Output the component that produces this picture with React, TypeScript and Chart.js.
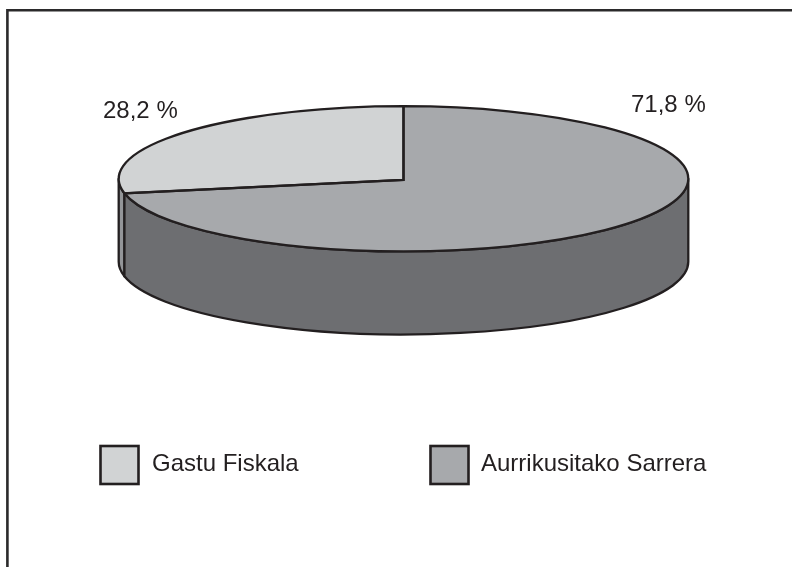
import React, { useEffect, useRef } from "react";
import { Chart, registerables } from "chart.js";

Chart.register(...registerables);

const categories = ["Gastu Fiskala", "Aurrikusitako Sarrera"];
const shares = [28.2, 71.8];
const shareLabels = ["28,2 %", "71,8 %"];
const topColors = ["#d1d3d4", "#a7a9ac"];
const sideColors = ["#939598", "#6d6e71"];

const INK = "#231f20";
const FONT = '24px "Liberation Sans", Arial, sans-serif';
const CX = 403.5;
const CY = 178.8;
const RX = 284.8;
const RY = 72.6;
const DEPTH = 83;
const START = -(shares[0] / 100) * 360;

const labelSpots = [
  { x: 103, y: 118 },
  { x: 631, y: 112 },
];
const legendSpots = [
  { x: 100.5, y: 446, tx: 152, ty: 471 },
  { x: 430.5, y: 446, tx: 481, ty: 471 },
];

const arcsOf = (chart: any) => chart.getDatasetMeta(0).data as any[];

const pie3d = {
  id: "pie3d",
  beforeDraw(chart: any) {
    const ctx = chart.ctx;
    ctx.save();
    ctx.fillStyle = "#ffffff";
    ctx.fillRect(0, 0, chart.width, chart.height);
    ctx.strokeStyle = "#2b2a2b";
    ctx.lineWidth = 2.6;
    ctx.beginPath();
    ctx.moveTo(7.4, chart.height);
    ctx.lineTo(7.4, 10.3);
    ctx.lineTo(chart.width, 10.3);
    ctx.stroke();
    ctx.restore();
  },
  beforeDatasetsDraw(chart: any) {
    const ctx = chart.ctx;
    ctx.save();
    ctx.strokeStyle = INK;
    ctx.lineWidth = 2.3;
    ctx.lineJoin = "round";
    arcsOf(chart).forEach((arc, i) => {
      const { startAngle, endAngle } = arc.getProps(["startAngle", "endAngle"], true);
      for (const turn of [-2, 0, 2]) {
        const a = Math.max(startAngle, turn * Math.PI);
        const b = Math.min(endAngle, (turn + 1) * Math.PI);
        if (b <= a) continue;
        ctx.beginPath();
        ctx.ellipse(CX, CY, RX, RY, 0, a, b);
        ctx.ellipse(CX, CY + DEPTH, RX, RY, 0, b, a, true);
        ctx.closePath();
        ctx.fillStyle = sideColors[i];
        ctx.fill();
        ctx.stroke();
      }
    });
    ctx.restore();
  },
  beforeDatasetDraw(chart: any) {
    const ctx = chart.ctx;
    const arc = arcsOf(chart)[0];
    const { x, y, outerRadius } = arc.getProps(["x", "y", "outerRadius"], true);
    ctx.save();
    ctx.translate(CX, CY);
    ctx.scale(RX / outerRadius, RY / outerRadius);
    ctx.translate(-x, -y);
  },
  afterDatasetDraw(chart: any) {
    chart.ctx.restore();
  },
  afterDatasetsDraw(chart: any) {
    const ctx = chart.ctx;
    ctx.save();
    ctx.strokeStyle = INK;
    ctx.lineWidth = 2.3;
    ctx.lineJoin = "miter";
    arcsOf(chart).forEach((arc) => {
      const { startAngle, endAngle } = arc.getProps(["startAngle", "endAngle"], true);
      ctx.beginPath();
      ctx.moveTo(CX, CY + 1);
      ctx.ellipse(CX, CY, RX, RY, 0, startAngle, endAngle);
      ctx.closePath();
      ctx.stroke();
    });
    ctx.restore();
  },
  afterDraw(chart: any) {
    const ctx = chart.ctx;
    ctx.save();
    ctx.font = FONT;
    ctx.fillStyle = INK;
    ctx.textAlign = "left";
    ctx.textBaseline = "alphabetic";
    shareLabels.forEach((t, i) => ctx.fillText(t, labelSpots[i].x, labelSpots[i].y));
    categories.forEach((t, i) => {
      const s = legendSpots[i];
      ctx.fillStyle = topColors[i];
      ctx.strokeStyle = INK;
      ctx.lineWidth = 2.6;
      ctx.fillRect(s.x, s.y, 38, 38);
      ctx.strokeRect(s.x, s.y, 38, 38);
      ctx.fillStyle = INK;
      ctx.fillText(t, s.tx, s.ty);
    });
    ctx.restore();
  },
};

export default function App() {
  const ref = useRef<HTMLCanvasElement>(null);
  useEffect(() => {
    const chart = new Chart(ref.current!, {
      type: "pie",
      data: {
        labels: categories,
        datasets: [
          {
            data: shares,
            backgroundColor: topColors,
            borderWidth: 0,
            clip: false,
          } as any,
        ],
      },
      options: {
        animation: false,
        responsive: false,
        rotation: START,
        plugins: { legend: { display: false }, tooltip: { enabled: false } },
      },
      plugins: [pie3d],
    });
    return () => chart.destroy();
  }, []);
  return (
    <canvas
      ref={ref}
      width={792}
      height={567}
      style={{ position: "fixed", left: 0, top: 0, display: "block" }}
    />
  );
}
